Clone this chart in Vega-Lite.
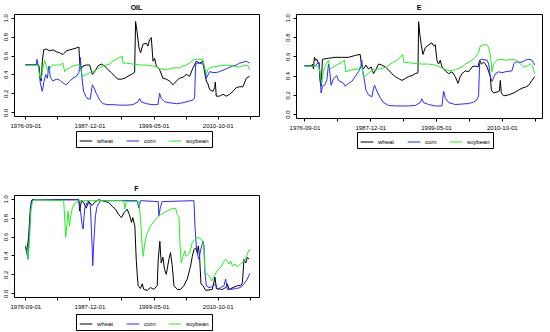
{
"$schema": "https://vega.github.io/schema/vega-lite/v6.json",
"background": "white",
"padding": {"left": 1, "top": 3, "right": 0, "bottom": 0},
"config": {
  "font": "Liberation Sans",
  "view": {"stroke": "#000000", "strokeWidth": 1},
  "axis": {"domain": false, "grid": false, "tickColor": "#000000", "tickSize": 3, "labelFontSize": 6, "labelColor": "#000000", "labelFlush": false, "labelOverlap": false, "labelBound": false, "labelPadding": 3},
  "title": {"fontSize": 7, "fontWeight": "bold", "offset": 3, "color": "#000000"},
  "legend": {"symbolType": "stroke", "symbolStrokeWidth": 1, "symbolSize": 160, "labelFontSize": 6, "labelOffset": 4, "columnPadding": 10, "padding": 3, "strokeColor": "#000000", "cornerRadius": 0, "labelColor": "#000000", "fillColor": "#ffffff"},
  "line": {"strokeWidth": 1}
},
"datasets": {
"OIL": [
{"crop":"wheat","obs":0,"value":0.505},{"crop":"wheat","obs":119,"value":0.505},{"crop":"wheat","obs":128,"value":0.49},{"crop":"wheat","obs":140,"value":0.35},{"crop":"wheat","obs":150,"value":0.33},{"crop":"wheat","obs":159,"value":0.54},{"crop":"wheat","obs":172,"value":0.66},{"crop":"wheat","obs":196,"value":0.67},{"crop":"wheat","obs":228,"value":0.65},{"crop":"wheat","obs":259,"value":0.66},{"crop":"wheat","obs":290,"value":0.64},{"crop":"wheat","obs":321,"value":0.63},{"crop":"wheat","obs":352,"value":0.61},{"crop":"wheat","obs":384,"value":0.65},{"crop":"wheat","obs":415,"value":0.66},{"crop":"wheat","obs":446,"value":0.67},{"crop":"wheat","obs":477,"value":0.68},{"crop":"wheat","obs":502,"value":0.69},{"crop":"wheat","obs":508,"value":0.54},{"crop":"wheat","obs":518,"value":0.45},{"crop":"wheat","obs":540,"value":0.49},{"crop":"wheat","obs":571,"value":0.5},{"crop":"wheat","obs":602,"value":0.5},{"crop":"wheat","obs":627,"value":0.4},{"crop":"wheat","obs":649,"value":0.43},{"crop":"wheat","obs":680,"value":0.49},{"crop":"wheat","obs":711,"value":0.51},{"crop":"wheat","obs":742,"value":0.49},{"crop":"wheat","obs":774,"value":0.45},{"crop":"wheat","obs":805,"value":0.42},{"crop":"wheat","obs":836,"value":0.38},{"crop":"wheat","obs":867,"value":0.35},{"crop":"wheat","obs":898,"value":0.35},{"crop":"wheat","obs":929,"value":0.36},{"crop":"wheat","obs":961,"value":0.38},{"crop":"wheat","obs":992,"value":0.4},{"crop":"wheat","obs":1023,"value":0.42},{"crop":"wheat","obs":1032,"value":0.96},{"crop":"wheat","obs":1045,"value":0.86},{"crop":"wheat","obs":1064,"value":0.68},{"crop":"wheat","obs":1079,"value":0.63},{"crop":"wheat","obs":1101,"value":0.72},{"crop":"wheat","obs":1132,"value":0.73},{"crop":"wheat","obs":1148,"value":0.7},{"crop":"wheat","obs":1163,"value":0.77},{"crop":"wheat","obs":1179,"value":0.79},{"crop":"wheat","obs":1195,"value":0.54},{"crop":"wheat","obs":1210,"value":0.57},{"crop":"wheat","obs":1226,"value":0.49},{"crop":"wheat","obs":1257,"value":0.45},{"crop":"wheat","obs":1288,"value":0.36},{"crop":"wheat","obs":1319,"value":0.35},{"crop":"wheat","obs":1351,"value":0.33},{"crop":"wheat","obs":1382,"value":0.29},{"crop":"wheat","obs":1413,"value":0.33},{"crop":"wheat","obs":1444,"value":0.36},{"crop":"wheat","obs":1475,"value":0.37},{"crop":"wheat","obs":1506,"value":0.4},{"crop":"wheat","obs":1538,"value":0.38},{"crop":"wheat","obs":1569,"value":0.47},{"crop":"wheat","obs":1584,"value":0.5},{"crop":"wheat","obs":1600,"value":0.54},{"crop":"wheat","obs":1631,"value":0.52},{"crop":"wheat","obs":1662,"value":0.54},{"crop":"wheat","obs":1678,"value":0.42},{"crop":"wheat","obs":1694,"value":0.33},{"crop":"wheat","obs":1709,"value":0.3},{"crop":"wheat","obs":1725,"value":0.24},{"crop":"wheat","obs":1756,"value":0.22},{"crop":"wheat","obs":1772,"value":0.26},{"crop":"wheat","obs":1778,"value":0.32},{"crop":"wheat","obs":1787,"value":0.17},{"crop":"wheat","obs":1818,"value":0.17},{"crop":"wheat","obs":1850,"value":0.19},{"crop":"wheat","obs":1881,"value":0.17},{"crop":"wheat","obs":1912,"value":0.19},{"crop":"wheat","obs":1943,"value":0.22},{"crop":"wheat","obs":1974,"value":0.26},{"crop":"wheat","obs":2006,"value":0.27},{"crop":"wheat","obs":2037,"value":0.27},{"crop":"wheat","obs":2068,"value":0.36},{"crop":"wheat","obs":2099,"value":0.38},
{"crop":"corn","obs":0,"value":0.5},{"crop":"corn","obs":103,"value":0.5},{"crop":"corn","obs":109,"value":0.56},{"crop":"corn","obs":128,"value":0.45},{"crop":"corn","obs":140,"value":0.31},{"crop":"corn","obs":159,"value":0.22},{"crop":"corn","obs":172,"value":0.31},{"crop":"corn","obs":190,"value":0.4},{"crop":"corn","obs":206,"value":0.36},{"crop":"corn","obs":221,"value":0.49},{"crop":"corn","obs":234,"value":0.37},{"crop":"corn","obs":259,"value":0.33},{"crop":"corn","obs":290,"value":0.35},{"crop":"corn","obs":321,"value":0.34},{"crop":"corn","obs":352,"value":0.31},{"crop":"corn","obs":384,"value":0.29},{"crop":"corn","obs":415,"value":0.33},{"crop":"corn","obs":446,"value":0.36},{"crop":"corn","obs":477,"value":0.38},{"crop":"corn","obs":502,"value":0.42},{"crop":"corn","obs":515,"value":0.58},{"crop":"corn","obs":524,"value":0.45},{"crop":"corn","obs":533,"value":0.33},{"crop":"corn","obs":546,"value":0.22},{"crop":"corn","obs":565,"value":0.17},{"crop":"corn","obs":586,"value":0.14},{"crop":"corn","obs":608,"value":0.14},{"crop":"corn","obs":627,"value":0.29},{"crop":"corn","obs":639,"value":0.27},{"crop":"corn","obs":664,"value":0.2},{"crop":"corn","obs":696,"value":0.13},{"crop":"corn","obs":727,"value":0.09},{"crop":"corn","obs":774,"value":0.08},{"crop":"corn","obs":820,"value":0.08},{"crop":"corn","obs":883,"value":0.075},{"crop":"corn","obs":945,"value":0.075},{"crop":"corn","obs":1007,"value":0.08},{"crop":"corn","obs":1054,"value":0.11},{"crop":"corn","obs":1070,"value":0.145},{"crop":"corn","obs":1085,"value":0.11},{"crop":"corn","obs":1132,"value":0.09},{"crop":"corn","obs":1195,"value":0.08},{"crop":"corn","obs":1241,"value":0.08},{"crop":"corn","obs":1257,"value":0.2},{"crop":"corn","obs":1273,"value":0.145},{"crop":"corn","obs":1304,"value":0.11},{"crop":"corn","obs":1351,"value":0.1},{"crop":"corn","obs":1413,"value":0.09},{"crop":"corn","obs":1475,"value":0.1},{"crop":"corn","obs":1538,"value":0.12},{"crop":"corn","obs":1569,"value":0.13},{"crop":"corn","obs":1584,"value":0.15},{"crop":"corn","obs":1594,"value":0.5},{"crop":"corn","obs":1606,"value":0.52},{"crop":"corn","obs":1631,"value":0.52},{"crop":"corn","obs":1662,"value":0.51},{"crop":"corn","obs":1678,"value":0.47},{"crop":"corn","obs":1694,"value":0.36},{"crop":"corn","obs":1725,"value":0.43},{"crop":"corn","obs":1756,"value":0.42},{"crop":"corn","obs":1787,"value":0.42},{"crop":"corn","obs":1818,"value":0.43},{"crop":"corn","obs":1881,"value":0.46},{"crop":"corn","obs":1943,"value":0.49},{"crop":"corn","obs":1974,"value":0.5},{"crop":"corn","obs":2006,"value":0.52},{"crop":"corn","obs":2037,"value":0.53},{"crop":"corn","obs":2068,"value":0.54},{"crop":"corn","obs":2099,"value":0.52},
{"crop":"soybean","obs":0,"value":0.5},{"crop":"soybean","obs":119,"value":0.5},{"crop":"soybean","obs":134,"value":0.38},{"crop":"soybean","obs":150,"value":0.36},{"crop":"soybean","obs":165,"value":0.47},{"crop":"soybean","obs":181,"value":0.55},{"crop":"soybean","obs":196,"value":0.49},{"crop":"soybean","obs":212,"value":0.43},{"crop":"soybean","obs":228,"value":0.45},{"crop":"soybean","obs":243,"value":0.49},{"crop":"soybean","obs":259,"value":0.5},{"crop":"soybean","obs":321,"value":0.5},{"crop":"soybean","obs":352,"value":0.52},{"crop":"soybean","obs":368,"value":0.43},{"crop":"soybean","obs":384,"value":0.45},{"crop":"soybean","obs":415,"value":0.47},{"crop":"soybean","obs":446,"value":0.49},{"crop":"soybean","obs":477,"value":0.5},{"crop":"soybean","obs":508,"value":0.5},{"crop":"soybean","obs":524,"value":0.42},{"crop":"soybean","obs":540,"value":0.38},{"crop":"soybean","obs":571,"value":0.4},{"crop":"soybean","obs":602,"value":0.42},{"crop":"soybean","obs":633,"value":0.43},{"crop":"soybean","obs":664,"value":0.45},{"crop":"soybean","obs":696,"value":0.47},{"crop":"soybean","obs":727,"value":0.49},{"crop":"soybean","obs":758,"value":0.5},{"crop":"soybean","obs":789,"value":0.51},{"crop":"soybean","obs":820,"value":0.54},{"crop":"soybean","obs":852,"value":0.56},{"crop":"soybean","obs":883,"value":0.58},{"crop":"soybean","obs":908,"value":0.59},{"crop":"soybean","obs":914,"value":0.52},{"crop":"soybean","obs":945,"value":0.52},{"crop":"soybean","obs":1007,"value":0.51},{"crop":"soybean","obs":1070,"value":0.5},{"crop":"soybean","obs":1132,"value":0.5},{"crop":"soybean","obs":1195,"value":0.49},{"crop":"soybean","obs":1226,"value":0.48},{"crop":"soybean","obs":1257,"value":0.46},{"crop":"soybean","obs":1319,"value":0.45},{"crop":"soybean","obs":1382,"value":0.47},{"crop":"soybean","obs":1444,"value":0.47},{"crop":"soybean","obs":1475,"value":0.49},{"crop":"soybean","obs":1506,"value":0.5},{"crop":"soybean","obs":1538,"value":0.52},{"crop":"soybean","obs":1569,"value":0.55},{"crop":"soybean","obs":1600,"value":0.56},{"crop":"soybean","obs":1662,"value":0.56},{"crop":"soybean","obs":1678,"value":0.47},{"crop":"soybean","obs":1694,"value":0.4},{"crop":"soybean","obs":1709,"value":0.45},{"crop":"soybean","obs":1725,"value":0.47},{"crop":"soybean","obs":1756,"value":0.48},{"crop":"soybean","obs":1818,"value":0.49},{"crop":"soybean","obs":1881,"value":0.5},{"crop":"soybean","obs":1943,"value":0.49},{"crop":"soybean","obs":2006,"value":0.48},{"crop":"soybean","obs":2037,"value":0.49},{"crop":"soybean","obs":2068,"value":0.5},{"crop":"soybean","obs":2084,"value":0.49},{"crop":"soybean","obs":2099,"value":0.45}
],
"E": [
{"crop":"wheat","obs":0,"value":0.505},{"crop":"wheat","obs":67,"value":0.505},{"crop":"wheat","obs":73,"value":0.52},{"crop":"wheat","obs":82,"value":0.47},{"crop":"wheat","obs":91,"value":0.59},{"crop":"wheat","obs":103,"value":0.56},{"crop":"wheat","obs":113,"value":0.57},{"crop":"wheat","obs":122,"value":0.54},{"crop":"wheat","obs":134,"value":0.52},{"crop":"wheat","obs":143,"value":0.34},{"crop":"wheat","obs":152,"value":0.29},{"crop":"wheat","obs":164,"value":0.57},{"crop":"wheat","obs":219,"value":0.58},{"crop":"wheat","obs":280,"value":0.59},{"crop":"wheat","obs":341,"value":0.59},{"crop":"wheat","obs":402,"value":0.59},{"crop":"wheat","obs":463,"value":0.61},{"crop":"wheat","obs":508,"value":0.62},{"crop":"wheat","obs":523,"value":0.49},{"crop":"wheat","obs":539,"value":0.47},{"crop":"wheat","obs":560,"value":0.51},{"crop":"wheat","obs":584,"value":0.47},{"crop":"wheat","obs":609,"value":0.49},{"crop":"wheat","obs":630,"value":0.42},{"crop":"wheat","obs":645,"value":0.45},{"crop":"wheat","obs":676,"value":0.52},{"crop":"wheat","obs":706,"value":0.51},{"crop":"wheat","obs":736,"value":0.49},{"crop":"wheat","obs":767,"value":0.46},{"crop":"wheat","obs":797,"value":0.42},{"crop":"wheat","obs":828,"value":0.39},{"crop":"wheat","obs":858,"value":0.37},{"crop":"wheat","obs":889,"value":0.35},{"crop":"wheat","obs":919,"value":0.37},{"crop":"wheat","obs":949,"value":0.39},{"crop":"wheat","obs":980,"value":0.4},{"crop":"wheat","obs":1010,"value":0.42},{"crop":"wheat","obs":1035,"value":0.43},{"crop":"wheat","obs":1041,"value":0.96},{"crop":"wheat","obs":1053,"value":0.82},{"crop":"wheat","obs":1065,"value":0.72},{"crop":"wheat","obs":1080,"value":0.62},{"crop":"wheat","obs":1102,"value":0.69},{"crop":"wheat","obs":1132,"value":0.72},{"crop":"wheat","obs":1162,"value":0.74},{"crop":"wheat","obs":1178,"value":0.71},{"crop":"wheat","obs":1193,"value":0.72},{"crop":"wheat","obs":1208,"value":0.56},{"crop":"wheat","obs":1223,"value":0.52},{"crop":"wheat","obs":1238,"value":0.56},{"crop":"wheat","obs":1254,"value":0.49},{"crop":"wheat","obs":1284,"value":0.45},{"crop":"wheat","obs":1315,"value":0.42},{"crop":"wheat","obs":1345,"value":0.44},{"crop":"wheat","obs":1375,"value":0.39},{"crop":"wheat","obs":1400,"value":0.32},{"crop":"wheat","obs":1421,"value":0.39},{"crop":"wheat","obs":1436,"value":0.42},{"crop":"wheat","obs":1467,"value":0.45},{"crop":"wheat","obs":1497,"value":0.44},{"crop":"wheat","obs":1528,"value":0.49},{"crop":"wheat","obs":1558,"value":0.5},{"crop":"wheat","obs":1582,"value":0.49},{"crop":"wheat","obs":1598,"value":0.56},{"crop":"wheat","obs":1613,"value":0.52},{"crop":"wheat","obs":1634,"value":0.54},{"crop":"wheat","obs":1649,"value":0.52},{"crop":"wheat","obs":1665,"value":0.49},{"crop":"wheat","obs":1680,"value":0.44},{"crop":"wheat","obs":1695,"value":0.39},{"crop":"wheat","obs":1704,"value":0.25},{"crop":"wheat","obs":1725,"value":0.22},{"crop":"wheat","obs":1756,"value":0.23},{"crop":"wheat","obs":1777,"value":0.24},{"crop":"wheat","obs":1786,"value":0.35},{"crop":"wheat","obs":1795,"value":0.22},{"crop":"wheat","obs":1817,"value":0.19},{"crop":"wheat","obs":1862,"value":0.2},{"crop":"wheat","obs":1908,"value":0.22},{"crop":"wheat","obs":1954,"value":0.25},{"crop":"wheat","obs":1984,"value":0.27},{"crop":"wheat","obs":2015,"value":0.28},{"crop":"wheat","obs":2045,"value":0.3},{"crop":"wheat","obs":2075,"value":0.35},{"crop":"wheat","obs":2100,"value":0.39},
{"crop":"corn","obs":0,"value":0.5},{"crop":"corn","obs":97,"value":0.5},{"crop":"corn","obs":113,"value":0.52},{"crop":"corn","obs":134,"value":0.54},{"crop":"corn","obs":143,"value":0.4},{"crop":"corn","obs":152,"value":0.22},{"crop":"corn","obs":164,"value":0.29},{"crop":"corn","obs":183,"value":0.3},{"crop":"corn","obs":204,"value":0.35},{"crop":"corn","obs":219,"value":0.52},{"crop":"corn","obs":228,"value":0.47},{"crop":"corn","obs":243,"value":0.3},{"crop":"corn","obs":265,"value":0.37},{"crop":"corn","obs":295,"value":0.4},{"crop":"corn","obs":310,"value":0.35},{"crop":"corn","obs":356,"value":0.32},{"crop":"corn","obs":371,"value":0.29},{"crop":"corn","obs":402,"value":0.32},{"crop":"corn","obs":432,"value":0.34},{"crop":"corn","obs":463,"value":0.39},{"crop":"corn","obs":493,"value":0.44},{"crop":"corn","obs":514,"value":0.49},{"crop":"corn","obs":523,"value":0.56},{"crop":"corn","obs":533,"value":0.44},{"crop":"corn","obs":548,"value":0.34},{"crop":"corn","obs":560,"value":0.25},{"crop":"corn","obs":584,"value":0.2},{"crop":"corn","obs":615,"value":0.18},{"crop":"corn","obs":630,"value":0.27},{"crop":"corn","obs":639,"value":0.3},{"crop":"corn","obs":660,"value":0.24},{"crop":"corn","obs":691,"value":0.17},{"crop":"corn","obs":721,"value":0.12},{"crop":"corn","obs":767,"value":0.09},{"crop":"corn","obs":828,"value":0.085},{"crop":"corn","obs":949,"value":0.085},{"crop":"corn","obs":1010,"value":0.09},{"crop":"corn","obs":1056,"value":0.12},{"crop":"corn","obs":1071,"value":0.16},{"crop":"corn","obs":1086,"value":0.12},{"crop":"corn","obs":1132,"value":0.1},{"crop":"corn","obs":1193,"value":0.085},{"crop":"corn","obs":1254,"value":0.085},{"crop":"corn","obs":1269,"value":0.24},{"crop":"corn","obs":1284,"value":0.17},{"crop":"corn","obs":1315,"value":0.12},{"crop":"corn","obs":1375,"value":0.1},{"crop":"corn","obs":1497,"value":0.11},{"crop":"corn","obs":1543,"value":0.125},{"crop":"corn","obs":1573,"value":0.15},{"crop":"corn","obs":1588,"value":0.19},{"crop":"corn","obs":1598,"value":0.56},{"crop":"corn","obs":1613,"value":0.57},{"crop":"corn","obs":1665,"value":0.56},{"crop":"corn","obs":1680,"value":0.52},{"crop":"corn","obs":1695,"value":0.39},{"crop":"corn","obs":1710,"value":0.34},{"crop":"corn","obs":1741,"value":0.42},{"crop":"corn","obs":1771,"value":0.44},{"crop":"corn","obs":1801,"value":0.43},{"crop":"corn","obs":1832,"value":0.44},{"crop":"corn","obs":1893,"value":0.45},{"crop":"corn","obs":1908,"value":0.52},{"crop":"corn","obs":1923,"value":0.54},{"crop":"corn","obs":1984,"value":0.54},{"crop":"corn","obs":2015,"value":0.56},{"crop":"corn","obs":2045,"value":0.57},{"crop":"corn","obs":2075,"value":0.56},{"crop":"corn","obs":2100,"value":0.51},
{"crop":"soybean","obs":0,"value":0.5},{"crop":"soybean","obs":128,"value":0.5},{"crop":"soybean","obs":143,"value":0.42},{"crop":"soybean","obs":158,"value":0.32},{"crop":"soybean","obs":173,"value":0.44},{"crop":"soybean","obs":189,"value":0.5},{"crop":"soybean","obs":219,"value":0.56},{"crop":"soybean","obs":234,"value":0.47},{"crop":"soybean","obs":280,"value":0.5},{"crop":"soybean","obs":341,"value":0.54},{"crop":"soybean","obs":365,"value":0.56},{"crop":"soybean","obs":377,"value":0.44},{"crop":"soybean","obs":432,"value":0.46},{"crop":"soybean","obs":493,"value":0.47},{"crop":"soybean","obs":514,"value":0.5},{"crop":"soybean","obs":523,"value":0.49},{"crop":"soybean","obs":539,"value":0.39},{"crop":"soybean","obs":569,"value":0.41},{"crop":"soybean","obs":599,"value":0.44},{"crop":"soybean","obs":630,"value":0.46},{"crop":"soybean","obs":691,"value":0.47},{"crop":"soybean","obs":752,"value":0.49},{"crop":"soybean","obs":782,"value":0.52},{"crop":"soybean","obs":812,"value":0.54},{"crop":"soybean","obs":843,"value":0.56},{"crop":"soybean","obs":873,"value":0.59},{"crop":"soybean","obs":895,"value":0.62},{"crop":"soybean","obs":907,"value":0.54},{"crop":"soybean","obs":980,"value":0.53},{"crop":"soybean","obs":1071,"value":0.52},{"crop":"soybean","obs":1132,"value":0.52},{"crop":"soybean","obs":1193,"value":0.51},{"crop":"soybean","obs":1254,"value":0.48},{"crop":"soybean","obs":1315,"value":0.45},{"crop":"soybean","obs":1375,"value":0.46},{"crop":"soybean","obs":1436,"value":0.49},{"crop":"soybean","obs":1467,"value":0.52},{"crop":"soybean","obs":1528,"value":0.56},{"crop":"soybean","obs":1558,"value":0.59},{"crop":"soybean","obs":1588,"value":0.64},{"crop":"soybean","obs":1604,"value":0.71},{"crop":"soybean","obs":1634,"value":0.72},{"crop":"soybean","obs":1665,"value":0.72},{"crop":"soybean","obs":1680,"value":0.69},{"crop":"soybean","obs":1695,"value":0.62},{"crop":"soybean","obs":1710,"value":0.44},{"crop":"soybean","obs":1725,"value":0.52},{"crop":"soybean","obs":1756,"value":0.56},{"crop":"soybean","obs":1786,"value":0.57},{"crop":"soybean","obs":1847,"value":0.56},{"crop":"soybean","obs":1878,"value":0.57},{"crop":"soybean","obs":1938,"value":0.56},{"crop":"soybean","obs":1969,"value":0.52},{"crop":"soybean","obs":1999,"value":0.49},{"crop":"soybean","obs":2030,"value":0.5},{"crop":"soybean","obs":2060,"value":0.52},{"crop":"soybean","obs":2081,"value":0.5},{"crop":"soybean","obs":2100,"value":0.42}
],
"F": [
{"crop":"wheat","obs":0,"value":0.5},{"crop":"wheat","obs":16,"value":0.45},{"crop":"wheat","obs":31,"value":0.6},{"crop":"wheat","obs":47,"value":0.9},{"crop":"wheat","obs":63,"value":0.99},{"crop":"wheat","obs":500,"value":0.99},{"crop":"wheat","obs":509,"value":0.87},{"crop":"wheat","obs":525,"value":0.98},{"crop":"wheat","obs":547,"value":0.96},{"crop":"wheat","obs":569,"value":0.9},{"crop":"wheat","obs":594,"value":0.97},{"crop":"wheat","obs":625,"value":0.93},{"crop":"wheat","obs":656,"value":0.97},{"crop":"wheat","obs":688,"value":0.99},{"crop":"wheat","obs":750,"value":0.97},{"crop":"wheat","obs":781,"value":0.96},{"crop":"wheat","obs":813,"value":0.92},{"crop":"wheat","obs":844,"value":0.89},{"crop":"wheat","obs":875,"value":0.83},{"crop":"wheat","obs":900,"value":0.8},{"crop":"wheat","obs":922,"value":0.85},{"crop":"wheat","obs":953,"value":0.89},{"crop":"wheat","obs":975,"value":0.83},{"crop":"wheat","obs":994,"value":0.75},{"crop":"wheat","obs":1006,"value":0.8},{"crop":"wheat","obs":1025,"value":0.71},{"crop":"wheat","obs":1038,"value":0.36},{"crop":"wheat","obs":1047,"value":0.2},{"crop":"wheat","obs":1056,"value":0.08},{"crop":"wheat","obs":1078,"value":0.05},{"crop":"wheat","obs":1094,"value":0.1},{"crop":"wheat","obs":1109,"value":0.04},{"crop":"wheat","obs":1141,"value":0.03},{"crop":"wheat","obs":1172,"value":0.06},{"crop":"wheat","obs":1203,"value":0.04},{"crop":"wheat","obs":1234,"value":0.08},{"crop":"wheat","obs":1244,"value":0.36},{"crop":"wheat","obs":1259,"value":0.55},{"crop":"wheat","obs":1272,"value":0.32},{"crop":"wheat","obs":1288,"value":0.38},{"crop":"wheat","obs":1303,"value":0.25},{"crop":"wheat","obs":1319,"value":0.2},{"crop":"wheat","obs":1344,"value":0.36},{"crop":"wheat","obs":1359,"value":0.43},{"crop":"wheat","obs":1375,"value":0.29},{"crop":"wheat","obs":1391,"value":0.08},{"crop":"wheat","obs":1422,"value":0.04},{"crop":"wheat","obs":1453,"value":0.04},{"crop":"wheat","obs":1484,"value":0.08},{"crop":"wheat","obs":1516,"value":0.15},{"crop":"wheat","obs":1547,"value":0.29},{"crop":"wheat","obs":1563,"value":0.39},{"crop":"wheat","obs":1578,"value":0.46},{"crop":"wheat","obs":1594,"value":0.48},{"crop":"wheat","obs":1609,"value":0.43},{"crop":"wheat","obs":1619,"value":0.5},{"crop":"wheat","obs":1631,"value":0.39},{"crop":"wheat","obs":1644,"value":0.1},{"crop":"wheat","obs":1663,"value":0.08},{"crop":"wheat","obs":1688,"value":0.03},{"crop":"wheat","obs":1750,"value":0.04},{"crop":"wheat","obs":1775,"value":0.17},{"crop":"wheat","obs":1788,"value":0.05},{"crop":"wheat","obs":1844,"value":0.04},{"crop":"wheat","obs":1875,"value":0.06},{"crop":"wheat","obs":1891,"value":0.1},{"crop":"wheat","obs":1906,"value":0.04},{"crop":"wheat","obs":1984,"value":0.08},{"crop":"wheat","obs":2016,"value":0.08},{"crop":"wheat","obs":2031,"value":0.11},{"crop":"wheat","obs":2047,"value":0.36},{"crop":"wheat","obs":2063,"value":0.32},{"crop":"wheat","obs":2078,"value":0.38},{"crop":"wheat","obs":2094,"value":0.36},
{"crop":"corn","obs":0,"value":0.5},{"crop":"corn","obs":25,"value":0.36},{"crop":"corn","obs":41,"value":0.71},{"crop":"corn","obs":56,"value":0.98},{"crop":"corn","obs":78,"value":0.99},{"crop":"corn","obs":500,"value":0.99},{"crop":"corn","obs":509,"value":0.94},{"crop":"corn","obs":531,"value":0.73},{"crop":"corn","obs":541,"value":0.68},{"crop":"corn","obs":556,"value":0.9},{"crop":"corn","obs":578,"value":0.96},{"crop":"corn","obs":594,"value":0.98},{"crop":"corn","obs":609,"value":0.92},{"crop":"corn","obs":625,"value":0.5},{"crop":"corn","obs":631,"value":0.29},{"crop":"corn","obs":641,"value":0.54},{"crop":"corn","obs":656,"value":0.82},{"crop":"corn","obs":672,"value":0.92},{"crop":"corn","obs":703,"value":0.98},{"crop":"corn","obs":1047,"value":0.98},{"crop":"corn","obs":1063,"value":0.9},{"crop":"corn","obs":1078,"value":0.98},{"crop":"corn","obs":1244,"value":0.97},{"crop":"corn","obs":1250,"value":0.82},{"crop":"corn","obs":1266,"value":0.92},{"crop":"corn","obs":1281,"value":0.97},{"crop":"corn","obs":1578,"value":0.98},{"crop":"corn","obs":1588,"value":0.71},{"crop":"corn","obs":1600,"value":0.5},{"crop":"corn","obs":1616,"value":0.39},{"crop":"corn","obs":1625,"value":0.36},{"crop":"corn","obs":1641,"value":0.46},{"crop":"corn","obs":1663,"value":0.55},{"crop":"corn","obs":1672,"value":0.5},{"crop":"corn","obs":1681,"value":0.22},{"crop":"corn","obs":1694,"value":0.08},{"crop":"corn","obs":1719,"value":0.06},{"crop":"corn","obs":1750,"value":0.07},{"crop":"corn","obs":1781,"value":0.1},{"crop":"corn","obs":1797,"value":0.04},{"crop":"corn","obs":1828,"value":0.06},{"crop":"corn","obs":1859,"value":0.08},{"crop":"corn","obs":1875,"value":0.15},{"crop":"corn","obs":1891,"value":0.04},{"crop":"corn","obs":1922,"value":0.04},{"crop":"corn","obs":1969,"value":0.05},{"crop":"corn","obs":2016,"value":0.06},{"crop":"corn","obs":2047,"value":0.1},{"crop":"corn","obs":2078,"value":0.15},{"crop":"corn","obs":2100,"value":0.21},
{"crop":"soybean","obs":0,"value":0.5},{"crop":"soybean","obs":16,"value":0.5},{"crop":"soybean","obs":25,"value":0.36},{"crop":"soybean","obs":38,"value":0.54},{"crop":"soybean","obs":53,"value":0.89},{"crop":"soybean","obs":69,"value":0.98},{"crop":"soybean","obs":94,"value":0.99},{"crop":"soybean","obs":359,"value":0.98},{"crop":"soybean","obs":369,"value":0.78},{"crop":"soybean","obs":378,"value":0.59},{"crop":"soybean","obs":391,"value":0.75},{"crop":"soybean","obs":400,"value":0.87},{"crop":"soybean","obs":413,"value":0.71},{"crop":"soybean","obs":422,"value":0.8},{"crop":"soybean","obs":438,"value":0.89},{"crop":"soybean","obs":453,"value":0.94},{"crop":"soybean","obs":500,"value":0.98},{"crop":"soybean","obs":906,"value":0.98},{"crop":"soybean","obs":922,"value":0.97},{"crop":"soybean","obs":931,"value":0.89},{"crop":"soybean","obs":944,"value":0.97},{"crop":"soybean","obs":1063,"value":0.97},{"crop":"soybean","obs":1078,"value":0.78},{"crop":"soybean","obs":1094,"value":0.5},{"crop":"soybean","obs":1103,"value":0.39},{"crop":"soybean","obs":1119,"value":0.54},{"crop":"soybean","obs":1141,"value":0.64},{"crop":"soybean","obs":1172,"value":0.71},{"crop":"soybean","obs":1203,"value":0.76},{"crop":"soybean","obs":1234,"value":0.8},{"crop":"soybean","obs":1266,"value":0.83},{"crop":"soybean","obs":1297,"value":0.85},{"crop":"soybean","obs":1328,"value":0.87},{"crop":"soybean","obs":1359,"value":0.89},{"crop":"soybean","obs":1406,"value":0.9},{"crop":"soybean","obs":1422,"value":0.83},{"crop":"soybean","obs":1438,"value":0.81},{"crop":"soybean","obs":1447,"value":0.54},{"crop":"soybean","obs":1459,"value":0.32},{"crop":"soybean","obs":1475,"value":0.39},{"crop":"soybean","obs":1494,"value":0.45},{"crop":"soybean","obs":1506,"value":0.39},{"crop":"soybean","obs":1525,"value":0.41},{"crop":"soybean","obs":1547,"value":0.46},{"crop":"soybean","obs":1563,"value":0.54},{"crop":"soybean","obs":1588,"value":0.57},{"crop":"soybean","obs":1609,"value":0.59},{"crop":"soybean","obs":1641,"value":0.58},{"crop":"soybean","obs":1663,"value":0.54},{"crop":"soybean","obs":1672,"value":0.46},{"crop":"soybean","obs":1681,"value":0.22},{"crop":"soybean","obs":1703,"value":0.2},{"crop":"soybean","obs":1725,"value":0.18},{"crop":"soybean","obs":1744,"value":0.13},{"crop":"soybean","obs":1766,"value":0.18},{"crop":"soybean","obs":1797,"value":0.24},{"crop":"soybean","obs":1828,"value":0.27},{"crop":"soybean","obs":1850,"value":0.32},{"crop":"soybean","obs":1875,"value":0.36},{"crop":"soybean","obs":1891,"value":0.34},{"crop":"soybean","obs":1906,"value":0.31},{"crop":"soybean","obs":1922,"value":0.34},{"crop":"soybean","obs":1938,"value":0.29},{"crop":"soybean","obs":1963,"value":0.31},{"crop":"soybean","obs":1984,"value":0.28},{"crop":"soybean","obs":2016,"value":0.31},{"crop":"soybean","obs":2047,"value":0.34},{"crop":"soybean","obs":2069,"value":0.39},{"crop":"soybean","obs":2094,"value":0.46},{"crop":"soybean","obs":2109,"value":0.45}
]
},
"vconcat": [
{
"hconcat": [
{
"title": "OIL",
"width": 245, "height": 102,
"data": {"name": "OIL"},
"mark": {"type": "line", "strokeWidth": 1},
"encoding": {
"x": {"field": "obs", "type": "quantitative", "scale": {"domain": [-106, 2187], "nice": false, "zero": false}, "axis": {"title": null, "values": [0, 300, 600, 900, 1200, 1500, 1800, 2100], "labelExpr": "datum.value==0?'1976-09-01':datum.value==600?'1987-12-01':datum.value==1200?'1999-05-01':datum.value==1800?'2010-10-01':''"}},
"y": {"field": "value", "type": "quantitative", "scale": {"domain": [-0.04, 1.04], "nice": false, "zero": false}, "axis": {"title": null, "values": [0, 0.2, 0.4, 0.6, 0.8, 1], "format": ".1f", "labelAngle": -90, "labelAlign": "center", "labelBaseline": "bottom", "minExtent": 12, "maxExtent": 12}},
"color": {"field": "crop", "type": "nominal", "scale": {"domain": ["wheat", "corn", "soybean"], "range": ["#000000", "#2b2bff", "#22ee22"]}, "legend": {"title": null, "orient": "none", "legendX": 62, "legendY": 117, "direction": "horizontal"}}
}
},
{
"title": "E",
"width": 246, "height": 104,
"data": {"name": "E"},
"mark": {"type": "line", "strokeWidth": 1},
"encoding": {
"x": {"field": "obs", "type": "quantitative", "scale": {"domain": [-77, 2166], "nice": false, "zero": false}, "axis": {"title": null, "values": [0, 300, 600, 900, 1200, 1500, 1800, 2100], "labelExpr": "datum.value==0?'1976-09-01':datum.value==600?'1987-12-01':datum.value==1200?'1999-05-01':datum.value==1800?'2010-10-01':''"}},
"y": {"field": "value", "type": "quantitative", "scale": {"domain": [-0.04, 1.04], "nice": false, "zero": false}, "axis": {"title": null, "values": [0, 0.2, 0.4, 0.6, 0.8, 1], "format": ".1f", "labelAngle": -90, "labelAlign": "center", "labelBaseline": "bottom", "minExtent": 12, "maxExtent": 12}},
"color": {"field": "crop", "type": "nominal", "scale": {"domain": ["wheat", "corn", "soybean"], "range": ["#000000", "#2b2bff", "#22ee22"]}, "legend": {"title": null, "orient": "none", "legendX": 61, "legendY": 118, "direction": "horizontal"}}
}
}
],
"spacing": 23,
"resolve": {"scale": {"color": "independent", "x": "independent", "y": "independent"}, "legend": {"color": "independent"}}
},
{
"title": "F",
"width": 245, "height": 102,
"data": {"name": "F"},
"mark": {"type": "line", "strokeWidth": 1},
"encoding": {
"x": {"field": "obs", "type": "quantitative", "scale": {"domain": [-106, 2187], "nice": false, "zero": false}, "axis": {"title": null, "values": [0, 300, 600, 900, 1200, 1500, 1800, 2100], "labelExpr": "datum.value==0?'1976-09-01':datum.value==600?'1987-12-01':datum.value==1200?'1999-05-01':datum.value==1800?'2010-10-01':''"}},
"y": {"field": "value", "type": "quantitative", "scale": {"domain": [-0.04, 1.04], "nice": false, "zero": false}, "axis": {"title": null, "values": [0, 0.2, 0.4, 0.6, 0.8, 1], "format": ".1f", "labelAngle": -90, "labelAlign": "center", "labelBaseline": "bottom", "minExtent": 12, "maxExtent": 12}},
"color": {"field": "crop", "type": "nominal", "scale": {"domain": ["wheat", "corn", "soybean"], "range": ["#000000", "#2b2bff", "#22ee22"]}, "legend": {"title": null, "orient": "none", "legendX": 62, "legendY": 119, "direction": "horizontal"}}
}
}
],
"spacing": 35,
"resolve": {"scale": {"color": "independent", "x": "independent", "y": "independent"}, "legend": {"color": "independent"}}
}
